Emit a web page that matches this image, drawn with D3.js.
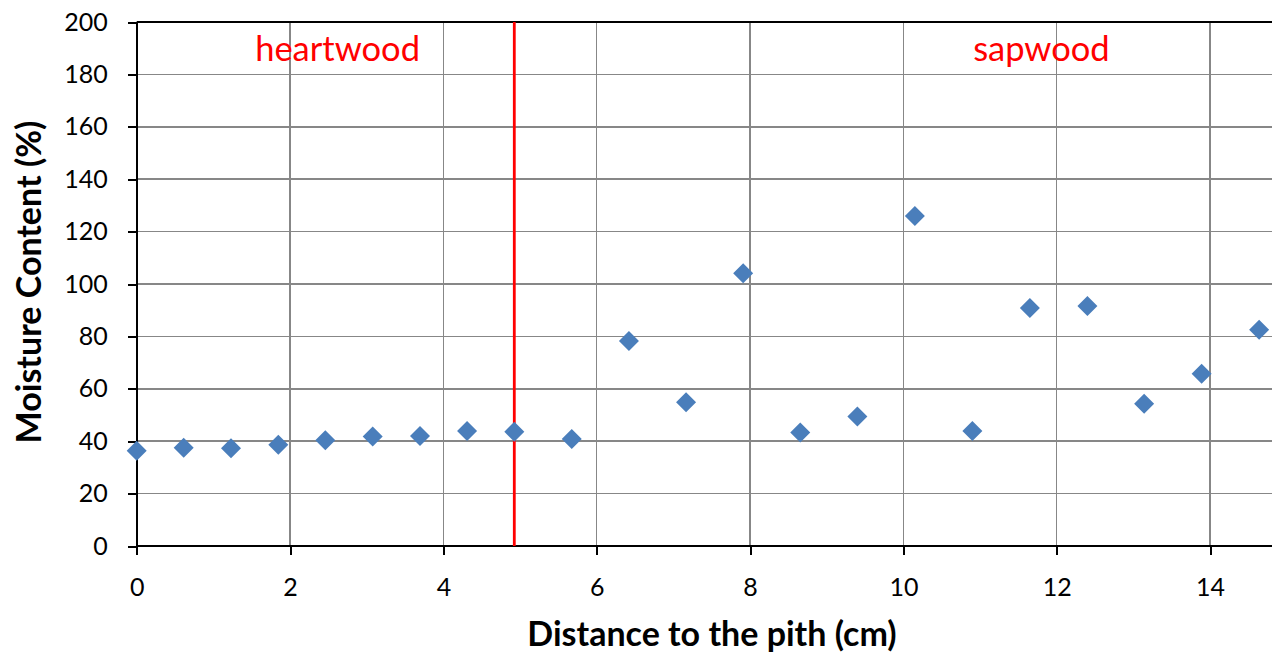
<!DOCTYPE html>
<html>
<head>
    <meta charset="utf-8">
    <title>Moisture content</title>
    <script src="https://d3js.org/d3.v7.min.js"></script>
    <style>
        body { margin: 0; background: #fff; }
        svg { font-family: Lato, "Open Sans", sans-serif; display: block; }
        .grid line { stroke: #878787; stroke-width: 1.5; shape-rendering: crispEdges; }
        .axis path, .axis line { stroke: #000; stroke-width: 2; shape-rendering: crispEdges; }
        .axis text { font-family: Lato, "Open Sans", sans-serif; font-size: 25px; fill: #000; }
    </style>
</head>
<body>
<script>
// distance from pith (cm) and moisture content (%)
var distance = [0, 0.613, 1.23, 1.847, 2.46, 3.078, 3.695, 4.309, 4.925, 5.674,
                6.42, 7.165, 7.91, 8.655, 9.40, 10.15, 10.90, 11.65, 12.40, 13.14, 13.89, 14.64];
var moisture = [36.4, 37.5, 37.3, 38.6, 40.4, 41.8, 42.0, 43.9, 43.6, 40.8,
                78.2, 54.9, 104.1, 43.3, 49.4, 126.0, 43.9, 90.8, 91.6, 54.3, 65.7, 82.5];
var xTicks = [0, 2, 4, 6, 8, 10, 12, 14];
var yTicks = [0, 20, 40, 60, 80, 100, 120, 140, 160, 180, 200];
var boundary = 4.925;   // heartwood / sapwood limit
var zoneLabels = [{ text: "heartwood", x: 2.62 }, { text: "sapwood", x: 11.8 }];

var width = 1272, height = 655;
var plotLeft = 136.7, plotTop = 22, plotBottom = 546;

var x = d3.scaleLinear().domain([0, 16]).range([plotLeft, plotLeft + 16 * 76.67]);
var y = d3.scaleLinear().domain([0, 200]).range([plotBottom, plotTop]);

var svg = d3.select("body").append("svg")
    .attr("width", width)
    .attr("height", height);

// gridlines
var grid = svg.append("g").attr("class", "grid");
grid.selectAll(".h").data(yTicks.slice(1)).enter().append("line")
    .attr("x1", plotLeft).attr("x2", width)
    .attr("y1", function (d) { return y(d); })
    .attr("y2", function (d) { return y(d); });
grid.selectAll(".v").data(xTicks.slice(1)).enter().append("line")
    .attr("y1", plotTop).attr("y2", plotBottom)
    .attr("x1", function (d) { return x(d); })
    .attr("x2", function (d) { return x(d); });

// top border
svg.append("line")
    .attr("x1", plotLeft).attr("x2", width)
    .attr("y1", plotTop).attr("y2", plotTop)
    .style("stroke", "#000").style("stroke-width", 2);

// axes
var xAxis = d3.axisBottom(x).tickValues(xTicks).tickSize(9).tickPadding(23).tickSizeOuter(0);
var yAxis = d3.axisLeft(y).tickValues(yTicks).tickSize(9).tickPadding(20).tickSizeOuter(0);

var gx = svg.append("g").attr("class", "axis")
    .attr("transform", "translate(0," + plotBottom + ")")
    .call(xAxis);
gx.select(".domain").attr("d", "M" + plotLeft + ",0H" + width);

svg.append("g").attr("class", "axis")
    .attr("transform", "translate(" + plotLeft + ",0)")
    .call(yAxis);

// boundary line
svg.append("line")
    .attr("x1", x(boundary)).attr("x2", x(boundary))
    .attr("y1", y(200)).attr("y2", y(0))
    .style("stroke", "#ff0000").style("stroke-width", 2.8);

// zone labels
svg.selectAll(".zone").data(zoneLabels).enter().append("text")
    .attr("x", function (d) { return x(d.x); })
    .attr("y", 61)
    .attr("text-anchor", "middle")
    .style("fill", "#ff0000")
    .style("font-size", "34.5px")
    .text(function (d) { return d.text; });

// points
var diamond = d3.symbol().type(d3.symbolSquare).size(200);
svg.selectAll(".pt").data(distance).enter().append("path")
    .attr("d", diamond)
    .attr("transform", function (d, i) {
        return "translate(" + x(d) + "," + y(moisture[i]) + ") rotate(45)";
    })
    .style("fill", "#4a7ebb");

// axis titles
svg.append("text")
    .attr("x", 712).attr("y", 646)
    .attr("text-anchor", "middle")
    .style("font-size", "34px").style("font-weight", "bold")
    .text("Distance to the pith (cm)");

svg.append("text")
    .attr("transform", "translate(41,282) rotate(-90)")
    .attr("text-anchor", "middle")
    .style("font-size", "34px").style("font-weight", "bold")
    .text("Moisture Content (%)");
</script>
</body>
</html>
